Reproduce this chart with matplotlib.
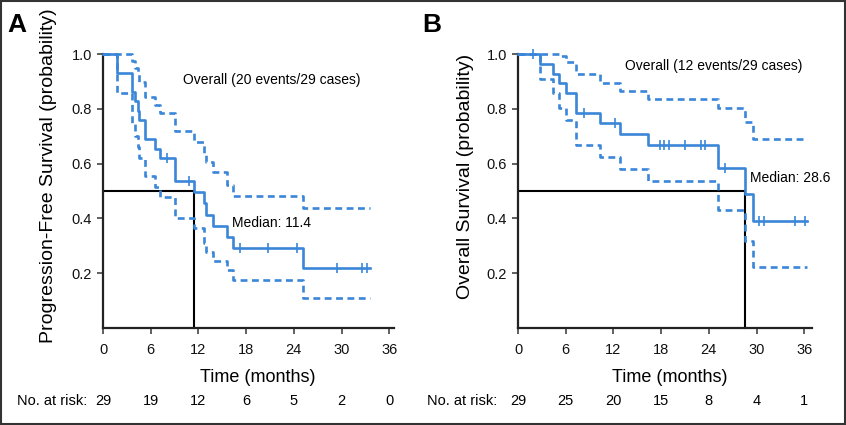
import numpy as np
import matplotlib
matplotlib.use("Agg")
import matplotlib.pyplot as plt
from matplotlib import font_manager
from matplotlib.transforms import blended_transform_factory
from matplotlib.patches import Rectangle

# ---------------- data ----------------
A_times = [0, 1.7, 3.65, 4.0, 4.4, 4.5, 5.3, 6.6, 7.2, 9.1, 11.4, 12.66, 12.9, 13.8, 15.6, 16.3, 25.2]
A_surv = [1.0, 0.931, 0.862, 0.828, 0.793, 0.759, 0.690, 0.655, 0.621, 0.538, 0.497, 0.455, 0.412, 0.372, 0.333, 0.290, 0.217]
A_upper = [1.0, 1.0, 0.975, 0.95, 0.93, 0.90, 0.845, 0.815, 0.786, 0.721, 0.680, 0.63, 0.607, 0.571, 0.522, 0.482, 0.437]
A_lower = [1.0, 0.857, 0.75, 0.70, 0.66, 0.62, 0.555, 0.516, 0.479, 0.40, 0.364, 0.31, 0.278, 0.244, 0.21, 0.174, 0.107]
A_end = 33.6
A_censor = [8.0, 10.8, 17.2, 20.8, 24.4, 29.4, 32.6, 33.2]
A_median = 11.4
A_risk = ["29", "19", "12", "6", "5", "2", "0"]

B_times = [0, 2.8, 4.36, 5.1, 6.07, 7.3, 10.35, 12.87, 16.35, 25.1, 28.6, 29.6]
B_surv = [1.0, 0.966, 0.928, 0.894, 0.857, 0.786, 0.750, 0.708, 0.668, 0.585, 0.488, 0.391]
B_upper = [1.0, 1.0, 1.0, 0.992, 0.973, 0.928, 0.896, 0.867, 0.835, 0.802, 0.753, 0.690]
B_lower = [1.0, 0.908, 0.857, 0.802, 0.760, 0.668, 0.623, 0.580, 0.538, 0.430, 0.318, 0.221]
B_end = 36.35
B_censor = [1.84, 8.26, 12.24, 17.9, 18.4, 19.0, 21.0, 23.0, 23.5, 26.0, 30.3, 31.0, 34.9, 36.05]
B_median = 28.6
B_risk = ["29", "25", "20", "15", "8", "4", "1"]

x_ticks = [0, 6, 12, 18, 24, 30, 36]
y_ticks = [0.2, 0.4, 0.6, 0.8, 1.0]

# ---------------- fonts ----------------
names = {f.name for f in font_manager.fontManager.ttflist}
REG = "Liberation Sans" if "Liberation Sans" in names else "DejaVu Sans"
NARROW = "Liberation Sans Narrow" if "Liberation Sans Narrow" in names else REG
plt.rcParams["font.family"] = [REG, "DejaVu Sans"]

BLUE = "#3a86d8"

W, H = 846, 425
fig = plt.figure(figsize=(W / 100, H / 100), dpi=100)
fig.patches.append(Rectangle((0.001, 0.002), 0.998, 0.996, transform=fig.transFigure,
                             fill=False, edgecolor="#333333", linewidth=1.5))

Y0, Y1 = 327.7, 54.3


def px_ax(left, right):
    bottom = 1 - Y0 / H
    top = 1 - Y1 / H
    return [left / W, bottom, (right - left) / W, top - bottom]


def draw(ax, times, surv, upper, lower, end, censor, median, ylabel, xmax,
         overall, overall_xy, med_xy, risk, risk_label_x, xlabel_x, ylabel_px):
    ax.set_xlim(0, xmax)
    ax.set_ylim(0, 1.0)
    t = list(times) + [end]
    for vals, ls in ((upper, "--"), (lower, "--"), (surv, "-")):
        v = list(vals) + [vals[-1]]
        line, = ax.step(t, v, where="post", color=BLUE, lw=1.9, ls=ls, clip_on=False, zorder=3)
        if ls == "--":
            line.set_dashes((2.6, 1.7))
    idx = np.searchsorted(times, censor, side="right") - 1
    cy = np.array(surv)[idx]
    ax.plot(censor, cy, ls="none", marker="|", ms=6.5, mew=1.2, color=BLUE, clip_on=False, zorder=4)
    ax.plot([0.2, median, median], [0.5, 0.5, 0], color="black", lw=1.5, zorder=2, clip_on=False)

    ax.text(overall_xy[0], overall_xy[1], overall, fontsize=10, va="center", ha="left")
    ax.text(med_xy[0], med_xy[1], "Median: %.1f" % median, fontsize=10, va="center", ha="left")

    for s in ("top", "right"):
        ax.spines[s].set_visible(False)
    for s in ("left", "bottom"):
        ax.spines[s].set_linewidth(1.6)
        ax.spines[s].set_color("#222222")
    ax.set_xticks(x_ticks)
    ax.set_yticks(y_ticks)
    ax.set_yticklabels(["%.1f" % v for v in y_ticks])
    ax.tick_params(direction="out", length=4, width=1.2, color="#444444", labelsize=10.5,
                   labelcolor="#111111")
    ax.tick_params(axis="x", pad=7)
    ax.tick_params(axis="y", pad=4)
    ax.set_xlabel("Time (months)", fontsize=13, family=[NARROW, "DejaVu Sans"])
    ax.xaxis.set_label_coords(xlabel_x, -(378 - Y0) / (Y0 - Y1))
    ax.xaxis.label.set_va("center")
    ax.set_ylabel(ylabel, fontsize=14, family=[NARROW, "DejaVu Sans"])
    lx = (ylabel_px - ax_left_px[0]) / (ax_left_px[1])
    ax.yaxis.set_label_coords(lx, (Y0 - 176) / (Y0 - Y1))
    ax.yaxis.label.set_ha("center")
    ax.yaxis.label.set_va("center")

    tr = blended_transform_factory(ax.transData, fig.transFigure)
    yy = 1 - 401 / H
    for xt, r in zip(x_ticks, risk):
        ax.text(xt, yy, r, transform=tr, ha="center", va="center", fontsize=10.5,
                family=[NARROW, "DejaVu Sans"])
    fig.text(risk_label_x / W, yy, "No. at risk:", ha="right", va="center", fontsize=10.5,
             family=[NARROW, "DejaVu Sans"])


ax_left_px = (103, 36.6 * 7.95)
axA = fig.add_axes(px_ax(103, 103 + 36.6 * 7.95))
draw(axA, A_times, A_surv, A_upper, A_lower, A_end, A_censor, A_median,
     "Progression-Free Survival (probability)", 36.6,
     "Overall (20 events/29 cases)", (10.1, 0.906), (16.2, 0.384), A_risk, 87, 0.533, 49)

ax_left_px = (518, 37 * 7.95)
axB = fig.add_axes(px_ax(518, 518 + 37 * 7.95))
draw(axB, B_times, B_surv, B_upper, B_lower, B_end, B_censor, B_median,
     "Overall Survival (probability)", 37,
     "Overall (12 events/29 cases)", (13.4, 0.957), (29.2, 0.546), B_risk, 497, 0.517, 465)

fig.text(17 / W, 1 - 25 / H, "A", fontsize=19, fontweight="bold", ha="center", va="center")
fig.text(432 / W, 1 - 25 / H, "B", fontsize=19, fontweight="bold", ha="center", va="center")

fig.savefig("out.png", dpi=100)
